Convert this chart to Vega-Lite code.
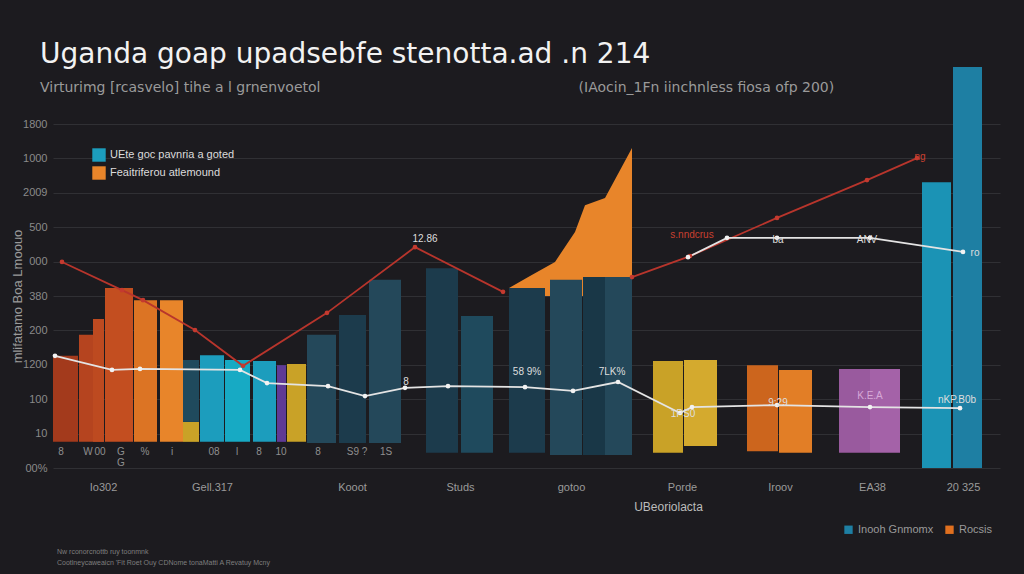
{
  "$schema": "https://vega.github.io/schema/vega-lite/v6.json",
  "autosize": "none",
  "padding": {"left": 53, "top": 124, "right": 24, "bottom": 106},
  "width": 947,
  "height": 344,
  "background": "#1c1b1f",
  "title": {
    "text": "Uganda goap upadsebfe stenotta.ad .n 214",
    "subtitle": "Virturimg [rcasvelo] tihe a l grnenvoetol\u00a0\u00a0\u00a0\u00a0\u00a0\u00a0\u00a0\u00a0\u00a0\u00a0\u00a0\u00a0\u00a0\u00a0\u00a0\u00a0\u00a0\u00a0\u00a0\u00a0\u00a0\u00a0\u00a0\u00a0\u00a0\u00a0\u00a0\u00a0\u00a0\u00a0\u00a0\u00a0\u00a0\u00a0\u00a0\u00a0\u00a0\u00a0\u00a0\u00a0\u00a0\u00a0\u00a0\u00a0\u00a0\u00a0\u00a0\u00a0\u00a0\u00a0\u00a0\u00a0\u00a0\u00a0\u00a0\u00a0\u00a0\u00a0(IAocin_1Fn iinchnless fiosa ofp 200)",
    "anchor": "start",
    "frame": "group",
    "dx": -13,
    "offset": -28,
    "font": "DejaVu Sans",
    "fontSize": 28,
    "fontWeight": "normal",
    "color": "#f2f2f2",
    "subtitleFont": "DejaVu Sans",
    "subtitleFontSize": 14,
    "subtitleColor": "#9a9a9a",
    "subtitlePadding": 12
  },
  "datasets": {
    "bars": [
      {"x": 0, "x2": 25, "y": 76, "y2": 326, "tone": "rust1"},
      {"x": 26, "x2": 51, "y": 76, "y2": 387, "tone": "rust2"},
      {"x": 40, "x2": 51, "y": 76, "y2": 433, "tone": "rust2b"},
      {"x": 52, "x2": 80, "y": 76, "y2": 523, "tone": "rust3"},
      {"x": 81, "x2": 104, "y": 76, "y2": 488, "tone": "orange1"},
      {"x": 107, "x2": 130, "y": 76, "y2": 488, "tone": "Feaitriferou atlemound"},
      {"x": 130, "x2": 146, "y": 76, "y2": 134, "tone": "yellow1"},
      {"x": 130, "x2": 146, "y": 134, "y2": 314, "tone": "slate3"},
      {"x": 147, "x2": 171, "y": 76, "y2": 328, "tone": "UEte goc pavnria a goted"},
      {"x": 172, "x2": 197, "y": 76, "y2": 314, "tone": "teal2"},
      {"x": 200, "x2": 223, "y": 76, "y2": 311, "tone": "UEte goc pavnria a goted"},
      {"x": 224, "x2": 233, "y": 76, "y2": 299, "tone": "purple0"},
      {"x": 234, "x2": 253, "y": 76, "y2": 302, "tone": "yellow1"},
      {"x": 254, "x2": 283, "y": 73, "y2": 387, "tone": "slate1"},
      {"x": 286, "x2": 313, "y": 73, "y2": 445, "tone": "slate2"},
      {"x": 316, "x2": 348, "y": 73, "y2": 547, "tone": "slate1"},
      {"x": 373, "x2": 405, "y": 44, "y2": 581, "tone": "slate2"},
      {"x": 408, "x2": 440, "y": 44, "y2": 442, "tone": "slate3"},
      {"x": 456, "x2": 492, "y": 44, "y2": 523, "tone": "slate2"},
      {"x": 497, "x2": 529, "y": 38, "y2": 547, "tone": "slate1"},
      {"x": 530, "x2": 552, "y": 38, "y2": 555, "tone": "slate4"},
      {"x": 552, "x2": 579, "y": 38, "y2": 555, "tone": "slate1"},
      {"x": 600, "x2": 630, "y": 44, "y2": 311, "tone": "yellow1"},
      {"x": 631, "x2": 664, "y": 64, "y2": 314, "tone": "yellow2"},
      {"x": 694, "x2": 725, "y": 49, "y2": 299, "tone": "orange2"},
      {"x": 726, "x2": 759, "y": 44, "y2": 285, "tone": "orange3"},
      {"x": 786, "x2": 817, "y": 44, "y2": 288, "tone": "purple1"},
      {"x": 817, "x2": 847, "y": 44, "y2": 288, "tone": "purple2"}
    ],
    "tall": [
      {"x": 869, "x2": 898, "y": 0, "y2": 831, "group": "tealA"},
      {"x": 900, "x2": 929, "y": 0, "y2": 1166, "group": "Inooh Gnmomx"}
    ],
    "rise": [
      {"x": 456, "y": 523, "y2": 500},
      {"x": 477, "y": 558, "y2": 500},
      {"x": 502, "y": 599, "y2": 500},
      {"x": 522, "y": 686, "y2": 500},
      {"x": 532, "y": 764, "y2": 500},
      {"x": 552, "y": 785, "y2": 500},
      {"x": 579, "y": 930, "y2": 500}
    ],
    "lines": [
      {"series": "red A", "x": 9, "y": 599},
      {"series": "red A", "x": 69, "y": 517},
      {"series": "red A", "x": 90, "y": 488},
      {"series": "red A", "x": 142, "y": 401},
      {"series": "red A", "x": 190, "y": 297},
      {"series": "red A", "x": 274, "y": 451},
      {"series": "red A", "x": 362, "y": 642},
      {"series": "red A", "x": 450, "y": 512},
      {"series": "red B", "x": 579, "y": 555},
      {"series": "red B", "x": 637, "y": 616},
      {"series": "red B", "x": 724, "y": 727},
      {"series": "red B", "x": 814, "y": 837},
      {"series": "red B", "x": 864, "y": 901},
      {"series": "white A", "x": 2, "y": 326},
      {"series": "white A", "x": 59, "y": 285},
      {"series": "white A", "x": 87, "y": 288},
      {"series": "white A", "x": 187, "y": 285},
      {"series": "white A", "x": 214, "y": 247},
      {"series": "white A", "x": 275, "y": 238},
      {"series": "white A", "x": 312, "y": 209},
      {"series": "white A", "x": 352, "y": 233},
      {"series": "white A", "x": 395, "y": 238},
      {"series": "white A", "x": 472, "y": 235},
      {"series": "white A", "x": 520, "y": 224},
      {"series": "white A", "x": 565, "y": 250},
      {"series": "white A", "x": 627, "y": 160},
      {"series": "white A", "x": 639, "y": 177},
      {"series": "white A", "x": 724, "y": 183},
      {"series": "white A", "x": 817, "y": 177},
      {"series": "white A", "x": 907, "y": 174},
      {"series": "white B", "x": 635, "y": 613},
      {"series": "white B", "x": 674, "y": 669},
      {"series": "white B", "x": 724, "y": 669},
      {"series": "white B", "x": 817, "y": 669},
      {"series": "white B", "x": 910, "y": 628}
    ],
    "notes": [
      {"t": "12.86", "x": 372, "y": 666, "k": "w"},
      {"t": "58 9%", "x": 474, "y": 279, "k": "w"},
      {"t": "7LK%", "x": 559, "y": 279, "k": "w"},
      {"t": "8", "x": 353, "y": 250, "k": "w"},
      {"t": "ANV", "x": 814, "y": 663, "k": "w"},
      {"t": "ba", "x": 725, "y": 662, "k": "w"},
      {"t": "ro", "x": 922, "y": 625, "k": "w"},
      {"t": "1PS0", "x": 630, "y": 157, "k": "w"},
      {"t": "9:29", "x": 725, "y": 189, "k": "w"},
      {"t": "nKP.B0b", "x": 904, "y": 198, "k": "w"},
      {"t": "K.E.A", "x": 817, "y": 209, "k": "p"},
      {"t": "s.nndcrus", "x": 639, "y": 677, "k": "r"},
      {"t": "ng", "x": 867, "y": 904, "k": "r"},
      {"t": "8", "x": 8, "y": 47, "k": "g"},
      {"t": "W", "x": 35, "y": 47, "k": "g"},
      {"t": "00", "x": 47, "y": 47, "k": "g"},
      {"t": "G", "x": 68, "y": 47, "k": "g"},
      {"t": "%", "x": 92, "y": 47, "k": "g"},
      {"t": "i", "x": 119, "y": 47, "k": "g"},
      {"t": "08", "x": 161, "y": 47, "k": "g"},
      {"t": "l", "x": 184, "y": 47, "k": "g"},
      {"t": "8", "x": 206, "y": 47, "k": "g"},
      {"t": "10", "x": 228, "y": 47, "k": "g"},
      {"t": "8", "x": 265, "y": 47, "k": "g"},
      {"t": "S9 ?", "x": 304, "y": 47, "k": "g"},
      {"t": "1S", "x": 333, "y": 47, "k": "g"},
      {"t": "G", "x": 68, "y": 15, "k": "g"}
    ],
    "footer": [
      {"t": "Nw rconorcnottb ruy toonmnk", "x": 4, "y": -244},
      {"t": "Cootlneycaweaicn 'Fit Roet Ouy CDNome tonaMatti A Revatuy Mcny", "x": 4, "y": -276}
    ]
  },
  "encoding": {
    "x": {
      "field": "x", "type": "quantitative",
      "scale": {"domain": [0, 947], "nice": false, "zero": false},
      "axis": {
        "values": [50, 159, 299, 407, 518, 629, 727, 819, 910],
        "labelExpr": "['Io302','Gell.317','Kooot','Studs','gotoo','Porde','Iroov','EA38','20 325'][indexof([50,159,299,407,518,629,727,819,910], datum.value)]",
        "title": "UBeoriolacta",
        "titleX": 615,
        "titleY": 33,
        "titleFont": "Liberation Sans",
        "titleFontSize": 12,
        "titleFontWeight": "normal",
        "titleColor": "#bbbbbb",
        "labelFont": "Liberation Sans",
        "labelFontSize": 11,
        "labelColor": "#9a9a9a",
        "labelPadding": 13,
        "ticks": false,
        "domain": false,
        "grid": false
      }
    },
    "y": {
      "field": "y", "type": "quantitative",
      "scale": {"domain": [0, 1000], "nice": false},
      "axis": {
        "values": [0, 100, 200, 300, 400, 500, 600, 700, 800, 900, 1000],
        "labelExpr": "['00%','10','100','1200','200','380','000','500','2009','1000','1800'][round(datum.value/100)]",
        "labelOverlap": false,
        "labelFlush": false,
        "title": "mlifatamo Boa Lmoouo",
        "titleX": -29,
        "titleY": 172,
        "titleFont": "Liberation Sans",
        "titleFontSize": 13,
        "titleFontWeight": "normal",
        "titleColor": "#9a9a9a",
        "labelFont": "Liberation Sans",
        "labelFontSize": 11,
        "labelColor": "#8a8a8a",
        "labelPadding": 6,
        "ticks": false,
        "domain": false,
        "grid": true,
        "gridColor": "#303034",
        "gridWidth": 1
      }
    }
  },
  "layer": [
    {
      "data": {"name": "rise"},
      "mark": {"type": "area", "color": "#e8852a", "interpolate": "linear"},
      "encoding": {"y2": {"field": "y2"}}
    },
    {
      "data": {"name": "bars"},
      "mark": {"type": "rect"},
      "encoding": {
        "x2": {"field": "x2"},
        "y2": {"field": "y2"},
        "color": {
          "field": "tone", "type": "nominal",
          "scale": {
            "domain": ["UEte goc pavnria a goted", "Feaitriferou atlemound", "rust1", "rust2", "rust2b", "rust3", "orange1", "slate3", "yellow1", "teal2", "purple0", "slate1", "slate2", "slate4", "yellow2", "orange2", "orange3", "purple1", "purple2"],
            "range": ["#1c9dbd", "#e8852a", "#a33a1c", "#b5441f", "#bd4a20", "#c34e20", "#dc7424", "#1f4a5d", "#c9a227", "#17aac4", "#5f3a95", "#24485a", "#1c3b4c", "#193747", "#d4aa2e", "#cc651d", "#e27e26", "#995a9e", "#a462a8"]
          },
          "legend": {
            "values": ["UEte goc pavnria a goted", "Feaitriferou atlemound"],
            "orient": "none",
            "legendX": 39,
            "legendY": 24,
            "title": null,
            "symbolType": "square",
            "symbolSize": 180,
            "symbolStrokeWidth": 0,
            "labelFont": "Liberation Sans",
            "labelFontSize": 11,
            "labelColor": "#dcdcdc",
            "rowPadding": 4,
            "padding": 0
          }
        }
      }
    },
    {
      "data": {"name": "tall"},
      "mark": {"type": "rect"},
      "encoding": {
        "x2": {"field": "x2"},
        "y2": {"field": "y2"},
        "fill": {
          "field": "group", "type": "nominal",
          "scale": {"domain": ["Inooh Gnmomx", "Rocsis", "tealA"], "range": ["#1e7fa3", "#e0701f", "#1b93b5"]},
          "legend": {
            "values": ["Inooh Gnmomx", "Rocsis"],
            "orient": "none",
            "direction": "horizontal",
            "legendX": 790,
            "legendY": 400,
            "title": null,
            "symbolType": "square",
            "symbolSize": 70,
            "symbolStrokeWidth": 0,
            "labelFont": "Liberation Sans",
            "labelFontSize": 11,
            "labelColor": "#9a9a9a",
            "columnPadding": 10,
            "padding": 0
          }
        }
      }
    },
    {
      "data": {"name": "lines"},
      "mark": {"type": "line", "strokeWidth": 1.8},
      "encoding": {
        "color": {
          "field": "series", "type": "nominal",
          "scale": {"domain": ["red A", "red B", "white A", "white B"], "range": ["#b8352c", "#b8352c", "#e4e4e4", "#e4e4e4"]},
          "legend": null
        }
      }
    },
    {
      "data": {"name": "lines"},
      "mark": {"type": "point", "filled": true, "size": 22, "opacity": 1},
      "encoding": {
        "color": {
          "field": "series", "type": "nominal",
          "scale": {"domain": ["red A", "red B", "white A", "white B"], "range": ["#c43a2f", "#c43a2f", "#f2f2f2", "#f2f2f2"]},
          "legend": null
        }
      }
    },
    {
      "data": {"name": "notes"},
      "mark": {"type": "text", "font": "Liberation Sans", "fontSize": 10},
      "encoding": {
        "text": {"field": "t"},
        "color": {
          "field": "k", "type": "nominal",
          "scale": {"domain": ["w", "p", "r", "g"], "range": ["#dedede", "#d6a8d8", "#c9402f", "#8f8f8f"]},
          "legend": null
        }
      }
    },
    {
      "data": {"name": "footer"},
      "mark": {"type": "text", "font": "Liberation Sans", "fontSize": 7, "align": "left", "color": "#7e7e7e"},
      "encoding": {
        "text": {"field": "t"}
      }
    }
  ],
  "resolve": {"scale": {"color": "independent", "fill": "independent"}},
  "config": {"view": {"stroke": null}}
}
